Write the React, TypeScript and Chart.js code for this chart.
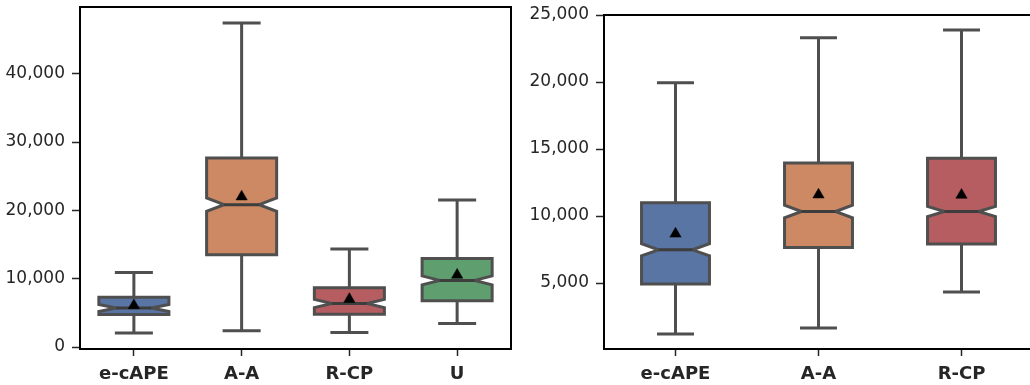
import React, { useEffect, useRef } from 'react';
import { Chart, registerables } from 'chart.js';

Chart.register(...registerables);

// ---------- Left panel data ----------
const leftCategories = ['e-cAPE', 'A-A', 'R-CP', 'U'];
const leftWhiskerLow = [2050, 2390, 2140, 3450];
const leftQ1 = [4750, 13510, 4800, 6780];
const leftMedian = [5710, 20830, 6370, 9750];
const leftQ3 = [7290, 27660, 8680, 12970];
const leftWhiskerHigh = [10920, 47420, 14340, 21510];
const leftMean = [6090, 22000, 7000, 10550];
const leftNotch = [500, 980, 600, 650];
const leftColors = ['#5975a4', '#cc8963', '#b55d60', '#5f9e6e'];
const leftTicks = [0, 10000, 20000, 30000, 40000];

// ---------- Right panel data ----------
const rightCategories = ['e-cAPE', 'A-A', 'R-CP'];
const rightWhiskerLow = [1200, 1650, 4330];
const rightQ1 = [4930, 7650, 7910];
const rightMedian = [7480, 10340, 10340];
const rightQ3 = [10990, 13950, 14320];
const rightWhiskerHigh = [19950, 23310, 23880];
const rightMean = [8670, 11590, 11570];
const rightNotch = [450, 470, 380];
const rightColors = ['#5975a4', '#cc8963', '#b55d60'];
const rightTicks = [5000, 10000, 15000, 20000, 25000];

const EDGE = '#4f4f4f';
const TEXT = '#262626';
const FONT = "'DejaVu Sans', sans-serif";

type BoxSpec = {
  categories: string[];
  low: number[];
  q1: number[];
  med: number[];
  q3: number[];
  high: number[];
  mean: number[];
  notch: number[];
  colors: string[];
  ticks: number[];
  yMin: number;
  yMax: number;
  widthRatio: number;
  padTop: number;
  padRight: number;
  yWidth: number;
};

const boxPlugin = {
  id: 'notchedBoxes',
  beforeDatasetsDraw(chart: any) {
    const spec: BoxSpec = chart.options.plugins.notchedBoxes.spec;
    const xs = chart.scales.x;
    const ys = chart.scales.y;
    const ctx = chart.ctx;
    const n = spec.categories.length;
    const catW = n > 1 ? xs.getPixelForValue(1) - xs.getPixelForValue(0) : xs.width;
    const half = (catW * spec.widthRatio) / 2;
    const capHalf = half / 2;
    ctx.save();
    ctx.lineWidth = 3;
    ctx.strokeStyle = EDGE;
    for (let i = 0; i < n; i++) {
      const cx = xs.getPixelForValue(i);
      const pLow = ys.getPixelForValue(spec.low[i]);
      const pHigh = ys.getPixelForValue(spec.high[i]);
      const pQ1 = ys.getPixelForValue(spec.q1[i]);
      const pQ3 = ys.getPixelForValue(spec.q3[i]);
      const pMed = ys.getPixelForValue(spec.med[i]);
      const pNMin = ys.getPixelForValue(spec.med[i] - spec.notch[i]);
      const pNMax = ys.getPixelForValue(spec.med[i] + spec.notch[i]);
      // whiskers
      ctx.lineCap = 'butt';
      ctx.beginPath();
      ctx.moveTo(cx, pQ3);
      ctx.lineTo(cx, pHigh);
      ctx.moveTo(cx, pQ1);
      ctx.lineTo(cx, pLow);
      ctx.stroke();
      // caps
      ctx.lineCap = 'square';
      ctx.beginPath();
      ctx.moveTo(cx - capHalf, pHigh);
      ctx.lineTo(cx + capHalf, pHigh);
      ctx.moveTo(cx - capHalf, pLow);
      ctx.lineTo(cx + capHalf, pLow);
      ctx.stroke();
      // notched box
      const L = cx - half;
      const R = cx + half;
      ctx.lineCap = 'butt';
      ctx.lineJoin = 'miter';
      ctx.beginPath();
      ctx.moveTo(L, pQ1);
      ctx.lineTo(R, pQ1);
      ctx.lineTo(R, pNMin);
      ctx.lineTo(cx + capHalf, pMed);
      ctx.lineTo(R, pNMax);
      ctx.lineTo(R, pQ3);
      ctx.lineTo(L, pQ3);
      ctx.lineTo(L, pNMax);
      ctx.lineTo(cx - capHalf, pMed);
      ctx.lineTo(L, pNMin);
      ctx.closePath();
      ctx.fillStyle = spec.colors[i];
      ctx.fill();
      ctx.stroke();
      // median
      ctx.beginPath();
      ctx.strokeStyle = '#3d3d3d';
      ctx.moveTo(cx - capHalf, pMed);
      ctx.lineTo(cx + capHalf, pMed);
      ctx.stroke();
      ctx.strokeStyle = EDGE;
    }
    ctx.restore();
  },
  afterDraw(chart: any) {
    const a = chart.chartArea;
    const ctx = chart.ctx;
    ctx.save();
    ctx.strokeStyle = '#000';
    ctx.lineWidth = 2;
    ctx.strokeRect(a.left, a.top, a.right - a.left, a.bottom - a.top);
    ctx.restore();
  },
};

function BoxChart({ spec, width, height }: { spec: BoxSpec; width: number; height: number }) {
  const ref = useRef<HTMLCanvasElement | null>(null);
  useEffect(() => {
    if (!ref.current) return;
    const chart = new Chart(ref.current, {
      type: 'line',
      data: {
        labels: spec.categories,
        datasets: [
          {
            data: spec.mean,
            showLine: false,
            pointStyle: 'triangle',
            pointRadius: 6.5,
            pointBackgroundColor: '#000',
            pointBorderColor: '#000',
            pointBorderWidth: 0.5,
            clip: false as any,
          },
        ],
      },
      options: {
        animation: false,
        responsive: false,
        events: [],
        layout: { padding: { left: 0, top: spec.padTop, right: spec.padRight, bottom: 0 } },
        plugins: {
          legend: { display: false },
          tooltip: { enabled: false },
          notchedBoxes: { spec },
        } as any,
        scales: {
          x: {
            type: 'category',
            offset: true,
            grid: {
              display: true,
              drawOnChartArea: false,
              offset: false,
              drawTicks: true,
              tickLength: 7,
              tickWidth: 1.5,
              tickColor: TEXT,
            },
            border: { display: false },
            ticks: {
              font: { family: FONT, size: 18, weight: 'bold' },
              color: TEXT,
              padding: 8,
              maxRotation: 0,
              autoSkip: false,
            },
            afterFit: (s: any) => {
              s.height = 36;
              s.paddingLeft = 0;
              s.paddingRight = 0;
            },
          },
          y: {
            type: 'linear',
            min: spec.yMin,
            max: spec.yMax,
            afterBuildTicks: (s: any) => {
              s.ticks = spec.ticks.map((v) => ({ value: v }));
            },
            grid: {
              display: true,
              drawOnChartArea: false,
              drawTicks: true,
              tickLength: 8,
              tickWidth: 1.5,
              tickColor: TEXT,
            },
            border: { display: false },
            ticks: {
              font: { family: FONT, size: 17 },
              color: TEXT,
              padding: 7,
              callback: (v: any) => Number(v).toLocaleString('en-US'),
            },
            afterFit: (s: any) => {
              s.width = spec.yWidth;
              s.paddingTop = 0;
              s.paddingBottom = 0;
            },
          },
        },
      } as any,
      plugins: [boxPlugin as any],
    });
    return () => chart.destroy();
  }, [spec]);
  return <canvas ref={ref} width={width} height={height} style={{ width, height, display: 'block' }} />;
}

const leftSpec: BoxSpec = {
  categories: leftCategories,
  low: leftWhiskerLow,
  q1: leftQ1,
  med: leftMedian,
  q3: leftQ3,
  high: leftWhiskerHigh,
  mean: leftMean,
  notch: leftNotch,
  colors: leftColors,
  ticks: leftTicks,
  yMin: -290,
  yMax: 49760,
  widthRatio: 0.65,
  padTop: 7,
  padRight: 9,
  yWidth: 80,
};

const rightSpec: BoxSpec = {
  categories: rightCategories,
  low: rightWhiskerLow,
  q1: rightQ1,
  med: rightMedian,
  q3: rightQ3,
  high: rightWhiskerHigh,
  mean: rightMean,
  notch: rightNotch,
  colors: rightColors,
  ticks: rightTicks,
  yMin: 80,
  yMax: 25000,
  widthRatio: 0.475,
  padTop: 15,
  padRight: 4,
  yWidth: 84,
};

export default function App() {
  return (
    <div
      style={{
        position: 'fixed',
        left: 0,
        top: 0,
        width: 1030,
        height: 385,
        overflow: 'hidden',
        background: '#fff',
      }}
    >
      <div style={{ position: 'absolute', left: 0, top: 0 }}>
        <BoxChart spec={leftSpec} width={520} height={385} />
      </div>
      <div style={{ position: 'absolute', left: 520, top: 0 }}>
        <BoxChart spec={rightSpec} width={520} height={385} />
      </div>
    </div>
  );
}
